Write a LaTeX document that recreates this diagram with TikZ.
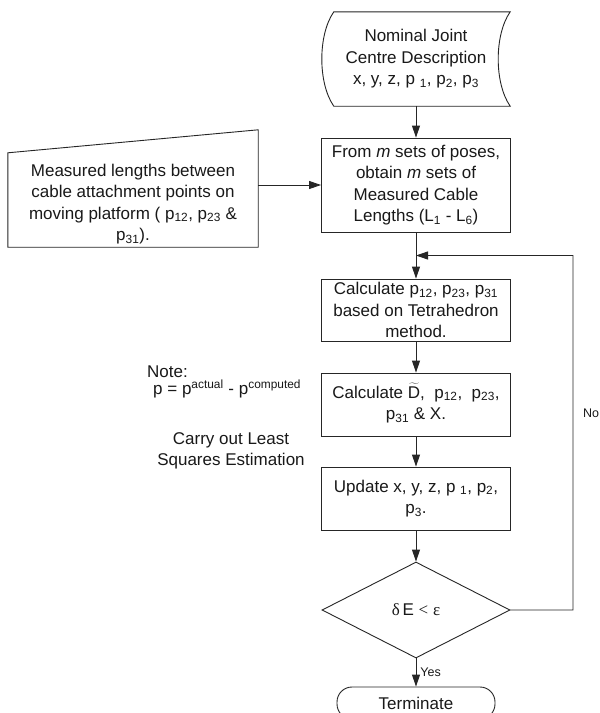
\documentclass[tikz,border=0pt]{standalone}
\usepackage{fontspec}
\setmainfont{Liberation Sans}
\newfontfamily\serifgr{Liberation Serif}
\usetikzlibrary{arrows.meta,shapes.geometric,calc}
\begin{document}
\begin{tikzpicture}[x=1pt,y=-1pt,
  every node/.style={font=\fontsize{17}{21.5}\selectfont, align=center, inner sep=0pt, text=black!90},
  ln/.style={draw=black!85, line width=0.9pt},
  arr/.style={ln, -{Triangle[length=12pt,width=8pt]}},
  procbox/.style={ln, minimum width=189pt, minimum height=#1},
  small/.style={font=\fontsize{12.5}{14}\selectfont}]
\fill[white] (0,0) rectangle (600,713);
\useasboundingbox (0,0) rectangle (600,713);

% stored-data start shape
\node (nom) [minimum width=188pt, minimum height=94pt] at (416,59)
  {Nominal Joint\\Centre Description\\x, y, z, p \textsubscript{1}, p\textsubscript{2}, p\textsubscript{3}};
\draw[ln] ($(nom.north west)+(12,0)$) -- (nom.north east)
  .. controls ($(nom.north east)+(-16,23)$) and ($(nom.south east)+(-16,-23)$) .. (nom.south east)
  -- ($(nom.south west)+(12,0)$)
  .. controls ($(nom.south west)+(-4,-23)$) and ($(nom.north west)+(-4,23)$) .. cycle;

% process boxes
\node[procbox=94pt] (b2) at (416,185)
  {From \textit{m} sets of poses,\\obtain \textit{m} sets of\\Measured Cable\\Lengths (L\textsubscript{1} - L\textsubscript{6})};
\node[procbox=62pt] (b3) at (416,310)
  {Calculate p\textsubscript{12}, p\textsubscript{23}, p\textsubscript{31}\\based on Tetrahedron\\method.};
\node[procbox=63pt] (b4) at (416,404.5)
  {Calculate \smash{$\widetilde{\mathrm{D}}$},\ \ p\textsubscript{12},\ \ p\textsubscript{23},\\p\textsubscript{31} \& X.};
\node[procbox=63pt] (b5) at (416,498.5)
  {Update x, y, z, p \textsubscript{1}, p\textsubscript{2},\\p\textsubscript{3}.};

% manual input shape
\node (man) [minimum width=250pt, minimum height=86pt] at (133,204)
  {Measured lengths between\\cable attachment points on\\moving platform ( p\textsubscript{12}, p\textsubscript{23} \&\\p\textsubscript{31}).};
\draw[ln] (man.south west) -- (man.south east) -- ($(man.north east)+(0,-31)$)
  -- ($(man.north west)+(0,-8)$) -- cycle;

% decision
\node[ln, diamond, minimum width=188pt, minimum height=96pt] (dec) at (416,610)
  {{\serifgr δ}\,E {\serifgr <} {\serifgr ε}};

% terminator
\node[ln, rounded corners=15pt, minimum width=158pt, minimum height=32pt] (term) at (416,703) {Terminate};

% notes
\node (note) [anchor=west] at (147,372) {Note:};
\node (eq) [anchor=west] at (153,389) {p = p\textsuperscript{actual} - p\textsuperscript{computed}};
\node (cls) at (231,451) {Carry out Least\\Squares Estimation};

% connectors
\draw[arr] (nom.south) -- (b2.north);
\draw[arr] (man.east |- b2.west) -- (b2.west);
\draw[arr] (b2.south) -- (b3.north);
\draw[arr] (b3.south) -- (b4.north);
\draw[arr] (b4.south) -- (b5.north);
\draw[arr] (b5.south) -- (dec.north);
\draw[arr] (dec.south) -- node[right, small, xshift=4pt] (yes) {Yes} (term.north);
\coordinate (jn) at ($(b2.south)!0.5!(b3.north)$);
\coordinate (rt) at (573,255.5);
\draw[arr] (dec.east) -| (rt) -- (jn);
\node[small] (no) at (591,413) {No};
\end{tikzpicture}
\end{document}
